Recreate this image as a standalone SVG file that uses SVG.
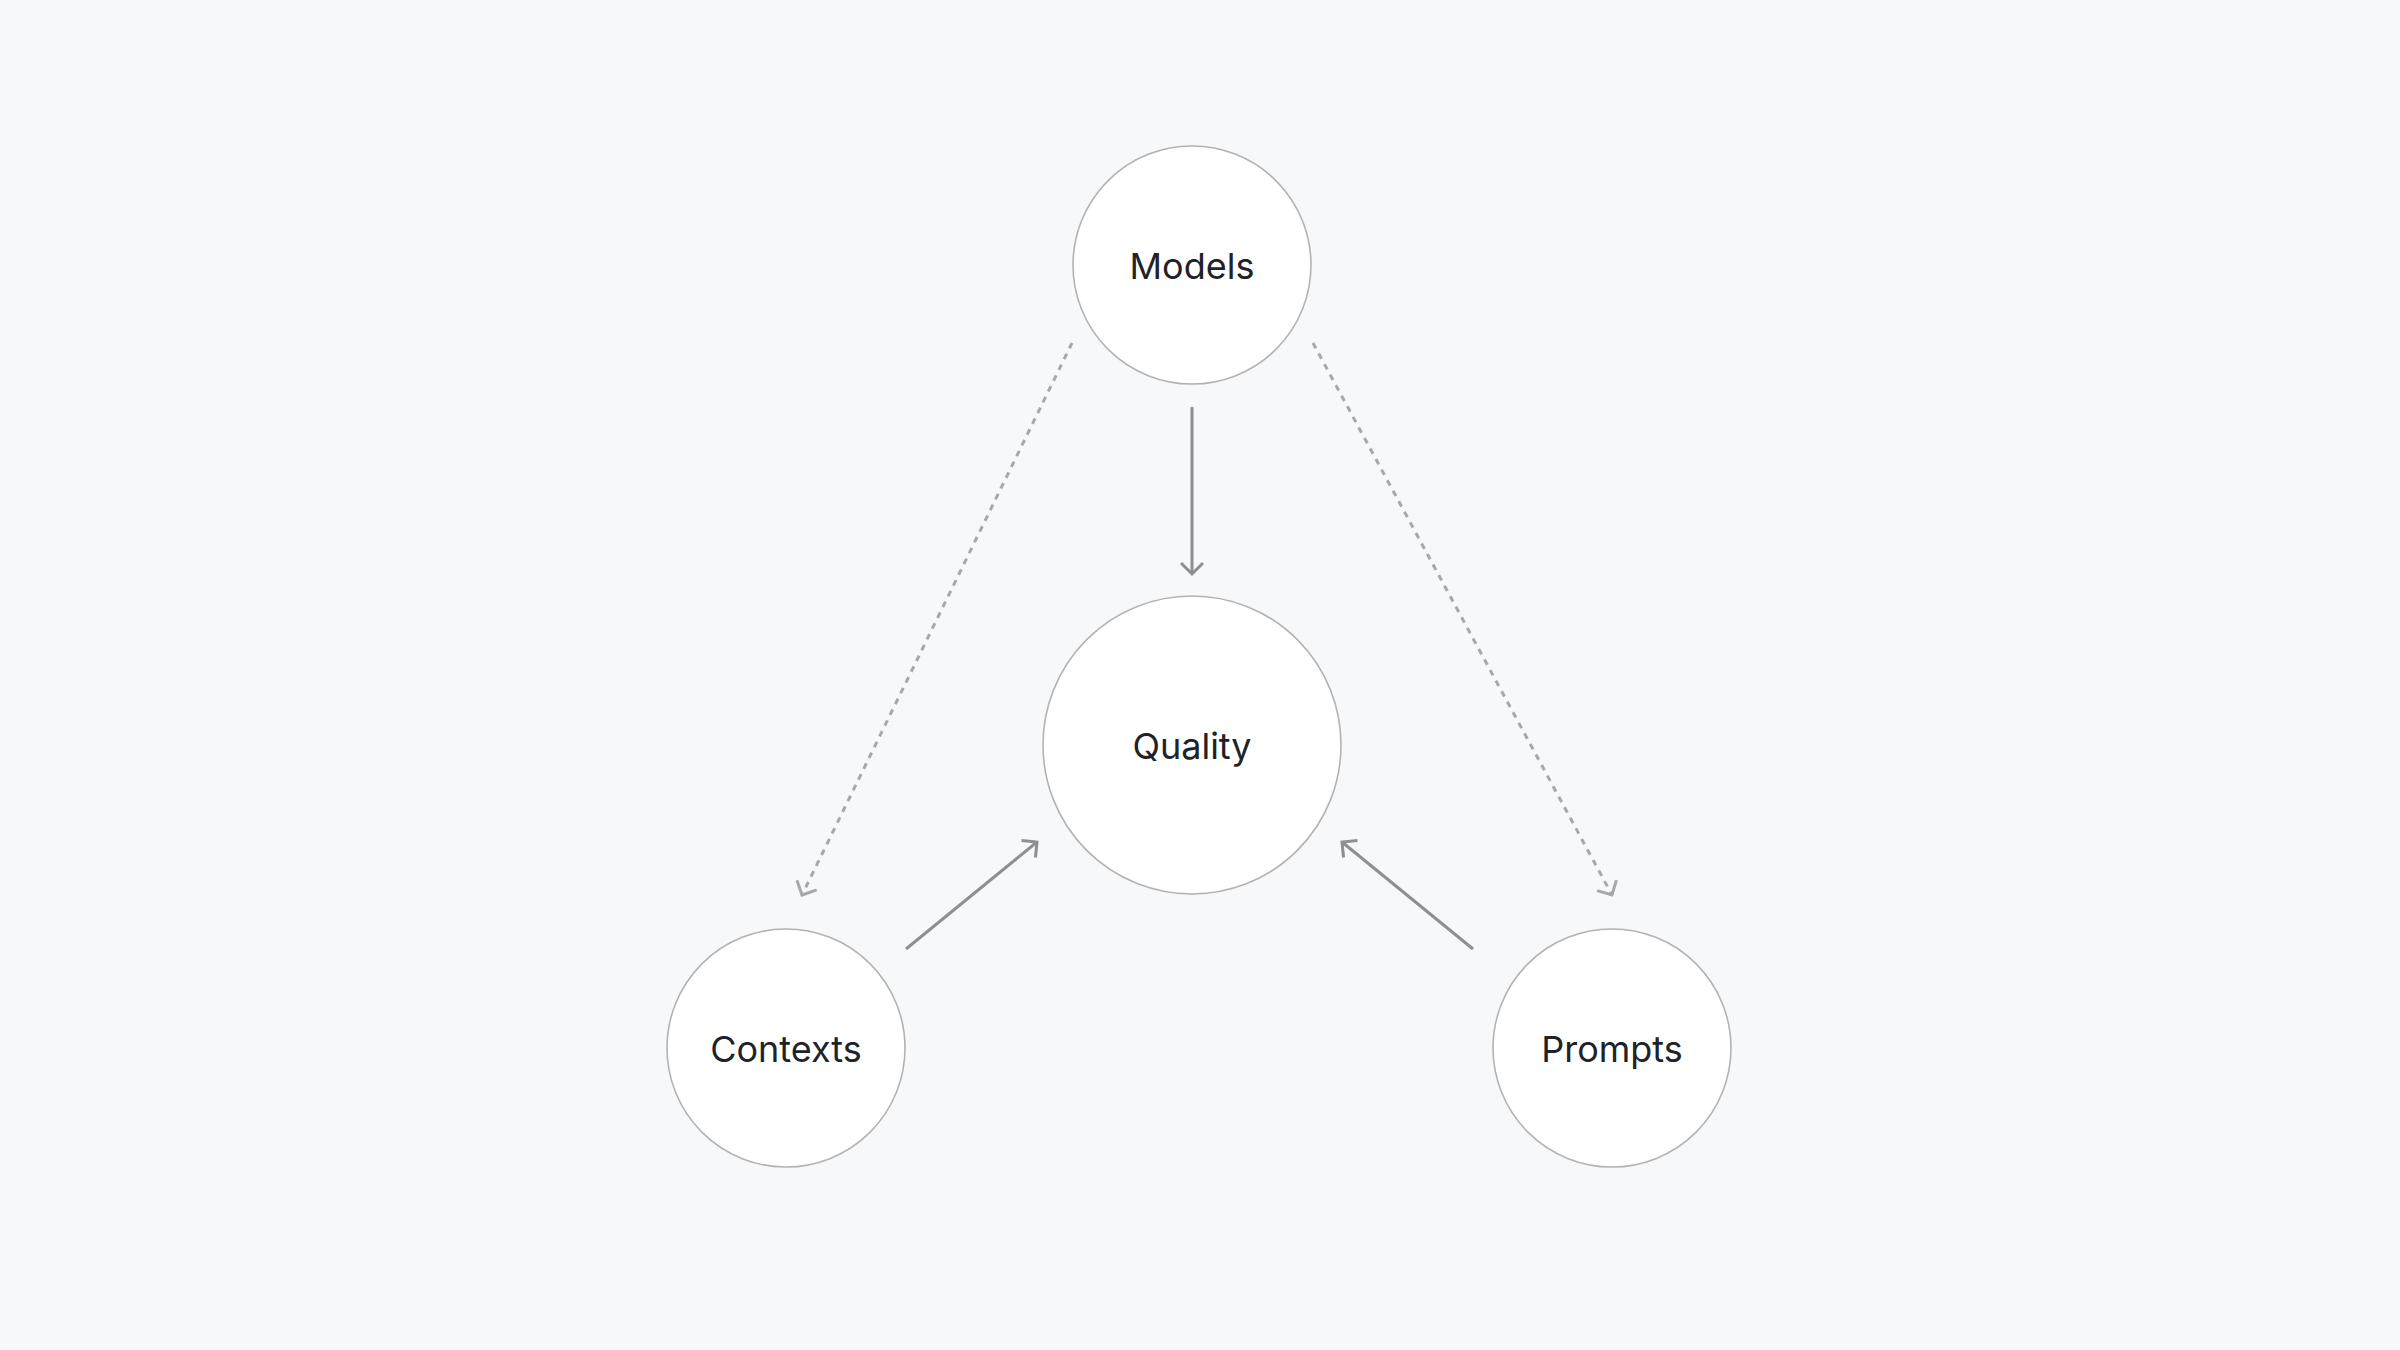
<svg xmlns="http://www.w3.org/2000/svg" width="2400" height="1350" viewBox="0 0 2400 1350">
  <style>
    .node circle { fill: #ffffff; stroke: #b3b3b3; stroke-width: 1.6; }
    .node text { font-family: Inter, "Liberation Sans", sans-serif; font-size: 36px; fill: #1e2329; text-anchor: middle; }
    .solid { stroke: #8f8f8f; stroke-width: 3; fill: none; }
    .dashed { stroke: #a8a8a8; stroke-width: 3; fill: none; stroke-dasharray: 6 6; }
  </style>
  <defs>
    <marker id="arrowSolid" markerUnits="userSpaceOnUse" viewBox="-14 -14 16 28" refX="0" refY="0" markerWidth="16" markerHeight="28" orient="auto" overflow="visible">
      <path d="M-11,-11 L0,0 L-11,11" fill="none" stroke="#8f8f8f" stroke-width="3"/>
    </marker>
    <marker id="arrowDashed" markerUnits="userSpaceOnUse" viewBox="-14 -14 16 28" refX="0" refY="0" markerWidth="16" markerHeight="28" orient="auto" overflow="visible">
      <path d="M-11,-11 L0,0 L-11,11" fill="none" stroke="#a8a8a8" stroke-width="3"/>
    </marker>
  </defs>
  <rect width="2400" height="1350" fill="#f7f8fa"/>
  <g id="connectors">
    <line class="solid" x1="1192" y1="407" x2="1192" y2="574" marker-end="url(#arrowSolid)"/>
    <line class="solid" x1="906" y1="949" x2="1037" y2="842" marker-end="url(#arrowSolid)"/>
    <line class="solid" x1="1473" y1="949" x2="1342" y2="842" marker-end="url(#arrowSolid)"/>
    <line class="dashed" x1="1072" y1="343" x2="802" y2="895" marker-end="url(#arrowDashed)"/>
    <line class="dashed" x1="1313" y1="343" x2="1612" y2="895" marker-end="url(#arrowDashed)"/>
  </g>
  <g id="node-models" class="node">
    <circle cx="1192" cy="265" r="119"/>
    <text x="1192" y="279">Models</text>
  </g>
  <g id="node-quality" class="node">
    <circle cx="1192" cy="745" r="149"/>
    <text x="1192" y="759">Quality</text>
  </g>
  <g id="node-contexts" class="node">
    <circle cx="786" cy="1048" r="119"/>
    <text x="786" y="1062">Contexts</text>
  </g>
  <g id="node-prompts" class="node">
    <circle cx="1612" cy="1048" r="119"/>
    <text x="1612" y="1062">Prompts</text>
  </g>
</svg>
